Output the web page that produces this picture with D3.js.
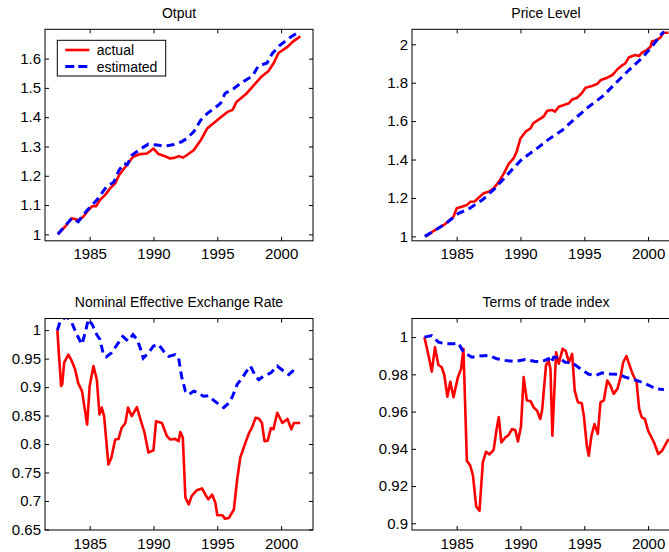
<!DOCTYPE html>
<html>
<head>
<meta charset="utf-8">
<script src="https://cdn.jsdelivr.net/npm/d3@7"></script>
<style>
  body { margin: 0; background: #fff; }
  svg { display: block; }
  text { font-family: "Liberation Sans", Arial, Helvetica, sans-serif; fill: #000; }
</style>
</head>
<body>
<div id="chart"></div>
<script>

// Year ticks shared by all four panels
var yearTicks = [1985, 1990, 1995, 2000];

// Otput: [year, value]
var outputActual = [[1982.5,1.0],[1983.07,1.026],[1983.6,1.055],[1984.1,1.049],[1984.5,1.06],[1984.9,1.083],[1985.2,1.096],[1985.5,1.096],[1985.8,1.117],[1986.2,1.134],[1986.6,1.157],[1987.0,1.174],[1987.3,1.202],[1987.7,1.225],[1988.0,1.242],[1988.4,1.265],[1988.96,1.274],[1989.5,1.276],[1990.0,1.293],[1990.4,1.274],[1990.9,1.267],[1991.3,1.259],[1991.7,1.262],[1992.0,1.267],[1992.3,1.262],[1992.6,1.270],[1993.15,1.287],[1993.7,1.321],[1994.2,1.361],[1994.75,1.381],[1995.25,1.399],[1995.8,1.418],[1996.2,1.425],[1996.5,1.452],[1997.3,1.481],[1997.8,1.506],[1998.5,1.540],[1999.0,1.557],[1999.4,1.583],[1999.8,1.619],[2000.5,1.640],[2000.9,1.657],[2001.5,1.676]];
var outputEstimated = [[1982.5,1.0],[1983.3,1.040],[1983.6,1.055],[1984.1,1.043],[1984.77,1.081],[1985.56,1.117],[1986.3,1.162],[1986.9,1.179],[1987.3,1.219],[1987.7,1.242],[1987.95,1.238],[1988.3,1.270],[1988.96,1.291],[1989.6,1.308],[1990.3,1.305],[1990.9,1.301],[1991.6,1.307],[1992.2,1.316],[1992.6,1.327],[1993.15,1.350],[1993.7,1.390],[1994.2,1.412],[1994.9,1.435],[1995.25,1.447],[1995.6,1.481],[1996.3,1.498],[1996.8,1.515],[1997.5,1.534],[1997.8,1.543],[1998.2,1.574],[1998.9,1.585],[1999.3,1.617],[1999.9,1.645],[2000.7,1.672],[2001.4,1.691]];
var outputTicks = [1, 1.1, 1.2, 1.3, 1.4, 1.5, 1.6];

// Price Level
var priceActual = [[1982.6,1.0],[1983.3,1.033],[1984.1,1.064],[1984.75,1.102],[1985.0,1.146],[1985.4,1.154],[1985.8,1.163],[1986.06,1.180],[1986.4,1.182],[1987.1,1.224],[1987.5,1.232],[1987.9,1.250],[1988.3,1.284],[1988.7,1.328],[1989.07,1.377],[1989.46,1.406],[1989.7,1.441],[1990.0,1.510],[1990.4,1.545],[1990.8,1.563],[1991.0,1.589],[1991.4,1.606],[1991.8,1.623],[1992.1,1.654],[1992.5,1.658],[1992.7,1.649],[1993.0,1.675],[1993.4,1.684],[1993.8,1.693],[1994.05,1.713],[1994.45,1.722],[1994.8,1.745],[1995.1,1.774],[1995.6,1.783],[1996.0,1.793],[1996.3,1.814],[1996.8,1.826],[1997.2,1.840],[1997.6,1.870],[1998.0,1.892],[1998.2,1.900],[1998.5,1.932],[1999.0,1.944],[1999.3,1.939],[1999.5,1.956],[1999.9,1.970],[2000.2,1.988],[2000.3,2.014],[2000.7,2.023],[2000.98,2.036],[2001.2,2.060],[2001.6,2.060]];
var priceEstimated = [[1982.5,1.0],[1984.1,1.064],[1985.14,1.12],[1985.9,1.141],[1987.0,1.189],[1988.0,1.25],[1989.07,1.328],[1990.1,1.401],[1991.2,1.453],[1992.2,1.505],[1993.3,1.554],[1994.3,1.615],[1995.35,1.675],[1996.4,1.727],[1997.45,1.797],[1998.5,1.866],[1999.5,1.927],[2000.3,1.988],[2000.98,2.048],[2001.25,2.066]];
var priceTicks = [1, 1.2, 1.4, 1.6, 1.8, 2];

// Nominal Effective Exchange Rate
var neerActual = [[1982.47,1.0],[1982.6,0.954],[1982.76,0.902],[1982.85,0.905],[1983.0,0.943],[1983.33,0.957],[1983.6,0.946],[1983.86,0.931],[1984.1,0.907],[1984.4,0.893],[1984.8,0.834],[1985.0,0.902],[1985.3,0.937],[1985.56,0.913],[1985.77,0.852],[1985.95,0.864],[1986.13,0.849],[1986.47,0.764],[1986.7,0.776],[1987.0,0.808],[1987.26,0.809],[1987.5,0.828],[1987.8,0.837],[1988.0,0.864],[1988.3,0.849],[1988.7,0.865],[1989.06,0.837],[1989.3,0.820],[1989.6,0.785],[1990.0,0.789],[1990.2,0.840],[1990.66,0.837],[1991.05,0.814],[1991.3,0.808],[1991.7,0.809],[1991.97,0.805],[1992.1,0.821],[1992.3,0.811],[1992.5,0.706],[1992.76,0.694],[1993.0,0.709],[1993.4,0.719],[1993.8,0.722],[1994.07,0.711],[1994.3,0.703],[1994.6,0.711],[1994.85,0.697],[1995.0,0.675],[1995.4,0.675],[1995.6,0.669],[1995.9,0.670],[1996.3,0.685],[1996.56,0.738],[1996.8,0.776],[1997.2,0.802],[1997.5,0.820],[1997.7,0.828],[1998.0,0.846],[1998.25,0.845],[1998.5,0.837],[1998.7,0.805],[1998.95,0.806],[1999.2,0.828],[1999.4,0.826],[1999.7,0.855],[2000.1,0.837],[2000.5,0.844],[2000.8,0.826],[2001.0,0.837],[2001.5,0.837]];
var neerEstimated = [[1982.47,1.0],[1982.7,1.016],[1983.2,1.024],[1983.6,1.013],[1984.0,0.992],[1984.4,0.975],[1984.64,0.995],[1984.9,1.019],[1985.2,1.010],[1985.56,0.992],[1985.8,0.984],[1986.08,0.957],[1986.3,0.953],[1986.7,0.960],[1987.26,0.978],[1987.6,0.989],[1988.0,0.981],[1988.4,0.992],[1988.7,0.984],[1988.96,0.969],[1989.2,0.951],[1989.6,0.960],[1990.0,0.972],[1990.4,0.975],[1990.8,0.963],[1991.2,0.954],[1991.7,0.957],[1991.97,0.951],[1992.2,0.919],[1992.5,0.893],[1992.76,0.887],[1993.15,0.893],[1993.5,0.890],[1993.9,0.884],[1994.3,0.885],[1994.7,0.877],[1995.1,0.870],[1995.5,0.864],[1995.9,0.872],[1996.2,0.884],[1996.56,0.905],[1996.95,0.916],[1997.3,0.928],[1997.6,0.937],[1998.0,0.919],[1998.25,0.913],[1998.6,0.919],[1999.2,0.925],[1999.7,0.937],[2000.2,0.928],[2000.6,0.922],[2000.9,0.928],[2001.3,0.922]];
var neerTicks = [0.65, 0.7, 0.75, 0.8, 0.85, 0.9, 0.95, 1];

// Terms of trade index
var totActual = [[1982.47,1.0],[1982.8,0.990],[1983.05,0.9815],[1983.3,0.9946],[1983.57,0.985],[1983.83,0.9838],[1984.04,0.9794],[1984.27,0.968],[1984.5,0.976],[1984.75,0.9677],[1985.1,0.9785],[1985.35,0.983],[1985.53,0.9937],[1985.8,0.9336],[1986.06,0.931],[1986.27,0.926],[1986.53,0.909],[1986.79,0.9067],[1987.05,0.9327],[1987.3,0.9384],[1987.57,0.937],[1987.9,0.9395],[1988.15,0.9515],[1988.3,0.957],[1988.5,0.9435],[1988.8,0.946],[1989.07,0.9474],[1989.33,0.9506],[1989.6,0.950],[1989.8,0.944],[1990.04,0.952],[1990.25,0.9785],[1990.5,0.966],[1990.8,0.9655],[1991.03,0.9623],[1991.3,0.9605],[1991.55,0.956],[1991.7,0.961],[1992.0,0.9848],[1992.2,0.9874],[1992.35,0.983],[1992.5,0.947],[1992.79,0.9919],[1993.0,0.9857],[1993.3,0.9937],[1993.55,0.9925],[1993.8,0.9865],[1994.05,0.991],[1994.25,0.9713],[1994.5,0.965],[1994.8,0.9645],[1994.96,0.958],[1995.2,0.9417],[1995.35,0.9363],[1995.56,0.947],[1995.8,0.9533],[1996.06,0.948],[1996.27,0.965],[1996.53,0.966],[1996.8,0.9767],[1997.05,0.974],[1997.3,0.9695],[1997.6,0.9722],[1997.84,0.9785],[1998.05,0.9865],[1998.3,0.9898],[1998.6,0.9838],[1998.8,0.980],[1999.1,0.9758],[1999.3,0.9614],[1999.5,0.957],[1999.75,0.956],[2000.0,0.9498],[2000.2,0.947],[2000.46,0.9435],[2000.8,0.9372],[2001.1,0.939],[2001.6,0.9453]];
var totEstimated = [[1982.47,1.0],[1983.05,1.0008],[1983.57,0.9973],[1984.1,0.9964],[1984.75,0.9964],[1985.14,0.9968],[1985.53,0.9919],[1986.2,0.9892],[1986.8,0.9898],[1987.5,0.9901],[1988.15,0.9884],[1988.8,0.9875],[1989.6,0.9869],[1990.38,0.988],[1991.16,0.9869],[1991.7,0.9869],[1992.2,0.9884],[1992.4,0.9862],[1992.6,0.9892],[1993.0,0.9889],[1993.5,0.9865],[1994.05,0.9862],[1994.7,0.983],[1995.35,0.980],[1995.9,0.9794],[1996.4,0.9808],[1997.05,0.9802],[1997.7,0.980],[1998.2,0.9785],[1998.87,0.9772],[1999.5,0.9758],[2000.1,0.974],[2000.6,0.9722],[2001.25,0.9718]];
var totTicks = [0.9, 0.92, 0.94, 0.96, 0.98, 1];

var width = 669, height = 552;
var panelW = 268, panelH = 211.5;

var svg = d3.select("#chart")
  .append("svg")
  .attr("width", width)
  .attr("height", height);

// Draw one MATLAB-style subplot
function drawPanel(opts) {
  var g = svg.append("g")
    .attr("transform", "translate(" + opts.left + "," + opts.top + ")");

  var x = d3.scaleLinear().domain([1981.5, 2002.5]).range([0, panelW]);
  var y = d3.scaleLinear().domain(opts.yDomain).range([panelH, 0]);

  g.append("rect")
    .attr("width", panelW)
    .attr("height", panelH)
    .attr("fill", "#fff");

  // clip the lines to the axes box
  g.append("clipPath")
    .attr("id", opts.id)
    .append("rect")
    .attr("width", panelW)
    .attr("height", panelH);

  var line = d3.line()
    .x(function(d) { return x(d[0]); })
    .y(function(d) { return y(d[1]); });

  var lines = g.append("g").attr("clip-path", "url(#" + opts.id + ")");

  lines.append("path")
    .datum(opts.actual)
    .attr("d", line)
    .attr("fill", "none")
    .attr("stroke", "#ff0000")
    .attr("stroke-width", 2.6)
    .attr("stroke-linejoin", "round");

  lines.append("path")
    .datum(opts.estimated)
    .attr("d", line)
    .attr("fill", "none")
    .attr("stroke", "#0000ff")
    .attr("stroke-width", 3)
    .attr("stroke-dasharray", "8,5");

  // axes with inward ticks on all four sides
  var bottom = g.append("g")
    .attr("transform", "translate(0," + panelH + ")")
    .call(d3.axisBottom(x).tickValues(yearTicks).tickFormat(d3.format("d"))
      .tickSizeInner(-4).tickSizeOuter(0).tickPadding(8));
  var left = g.append("g")
    .call(d3.axisLeft(y).tickValues(opts.yTicks).tickFormat(String)
      .tickSizeInner(-4).tickSizeOuter(0).tickPadding(4));
  var top = g.append("g")
    .call(d3.axisTop(x).tickValues(yearTicks).tickFormat("")
      .tickSizeInner(-4).tickSizeOuter(0));
  var right = g.append("g")
    .attr("transform", "translate(" + panelW + ",0)")
    .call(d3.axisRight(y).tickValues(opts.yTicks).tickFormat("")
      .tickSizeInner(-4).tickSizeOuter(0));

  [bottom, left, top, right].forEach(function(a) {
    a.select(".domain").remove();
    a.selectAll("line").attr("stroke", "#000");
    a.selectAll("text")
      .style("font-size", "15px")
      .style("font-family", "'Liberation Sans', Arial, Helvetica, sans-serif")
      .attr("fill", "#000");
  });

  g.append("rect")
    .attr("width", panelW)
    .attr("height", panelH)
    .attr("fill", "none")
    .attr("stroke", "#000")
    .attr("stroke-width", 1);

  g.append("text")
    .attr("x", panelW / 2)
    .attr("y", -11.5)
    .attr("text-anchor", "middle")
    .style("font-size", "14px")
    .text(opts.title);

  return g;
}

var g1 = drawPanel({ id: "c1", title: "Otput", left: 45, top: 29.3,
  yDomain: [0.978, 1.7], yTicks: outputTicks, actual: outputActual, estimated: outputEstimated });
drawPanel({ id: "c2", title: "Price Level", left: 412, top: 29.3,
  yDomain: [0.977, 2.078], yTicks: priceTicks, actual: priceActual, estimated: priceEstimated });
drawPanel({ id: "c3", title: "Nominal Effective Exchange Rate", left: 45, top: 318.5,
  yDomain: [0.649, 1.0205], yTicks: neerTicks, actual: neerActual, estimated: neerEstimated });
drawPanel({ id: "c4", title: "Terms of trade index", left: 412, top: 318.5,
  yDomain: [0.8964, 1.010], yTicks: totTicks, actual: totActual, estimated: totEstimated });

// Legend in the first panel
var legend = g1.append("g").attr("transform", "translate(12.3,11)");
legend.append("rect")
  .attr("width", 108.4)
  .attr("height", 35.7)
  .attr("fill", "#fff")
  .attr("stroke", "#000");
legend.append("line")
  .attr("x1", 8).attr("x2", 32).attr("y1", 9.7).attr("y2", 9.7)
  .attr("stroke", "#ff0000").attr("stroke-width", 2.6);
legend.append("line")
  .attr("x1", 8).attr("x2", 34).attr("y1", 26.3).attr("y2", 26.3)
  .attr("stroke", "#0000ff").attr("stroke-width", 3).attr("stroke-dasharray", "9,4");
legend.append("text").attr("x", 39.4).attr("y", 14.7).style("font-size", "14px").text("actual");
legend.append("text").attr("x", 39.4).attr("y", 31.3).style("font-size", "14px").text("estimated");

</script>
</body>
</html>
